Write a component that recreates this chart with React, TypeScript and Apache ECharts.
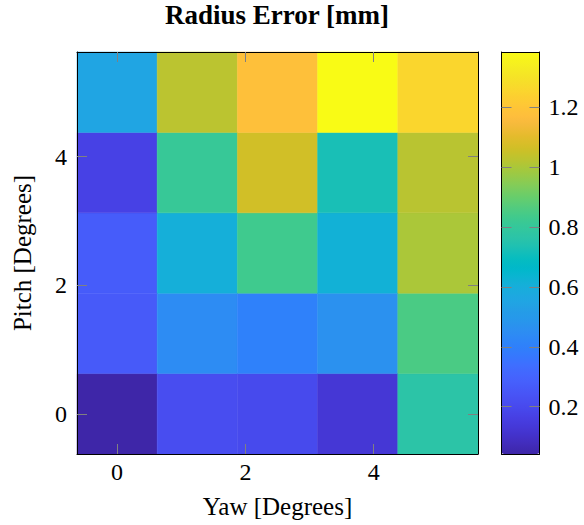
import React, { useEffect, useRef } from "react";
import * as echarts from "echarts";

// ---- data ----
const yawValues = [0, 1.25, 2.5, 3.75, 5];
const pitchValues = [0, 1.25, 2.5, 3.75, 5];
// rows: pitch (bottom -> top), columns: yaw (left -> right)
const errPitch0 = [0.042, 0.212, 0.2, 0.127, 0.766];
const errPitch1 = [0.262, 0.447, 0.404, 0.469, 0.851];
const errPitch2 = [0.268, 0.606, 0.83, 0.617, 1.0];
const errPitch3 = [0.17, 0.809, 1.065, 0.724, 1.022];
const errPitch4 = [0.553, 1.026, 1.181, 1.384, 1.256];
const errorRows = [errPitch0, errPitch1, errPitch2, errPitch3, errPitch4];
const axisTickValues = [0, 2, 4];
const colorbarTickValues = [0.2, 0.4, 0.6, 0.8, 1, 1.2];

const TITLE = "Radius Error [mm]";
const X_NAME = "Yaw [Degrees]";
const Y_NAME = "Pitch [Degrees]";

// MATLAB parula colormap (64 entries)
const PARULA = [
  "#3e26a8", "#402ab4", "#422ec0", "#4332cb", "#4537d5", "#463cde", "#4741e5", "#4747eb",
  "#484df0", "#4852f4", "#4758f8", "#465efb", "#4563fd", "#4269fe", "#3e6fff", "#3875fe",
  "#327cfc", "#2f81fa", "#2e87f7", "#2d8cf3", "#2b91ef", "#2797eb", "#259be8", "#23a0e5",
  "#20a5e3", "#1ca9df", "#18addb", "#12b1d6", "#08b5d0", "#01b8ca", "#02bac3", "#0bbdbd",
  "#19bfb6", "#24c1ae", "#2cc4a7", "#31c69f", "#37c897", "#3fca8e", "#4acb84", "#57cc7a",
  "#64cd6f", "#72cd64", "#81cc59", "#8fcb4e", "#9dc943", "#abc739", "#b9c431", "#c5c22a",
  "#d1bf27", "#dcbd29", "#e6bb2d", "#f0ba36", "#f8ba3d", "#febe3c", "#fec338", "#fec934",
  "#fccf30", "#fad62d", "#f7dc2a", "#f5e327", "#f5e924", "#f6ef20", "#f7f51b", "#f9fb15",
];

const FONT = "'Liberation Serif', 'Times New Roman', serif";

export default function App() {
  const ref = useRef<HTMLDivElement>(null);

  useEffect(() => {
    if (!ref.current) return;
    const chart = echarts.init(ref.current, null, { renderer: "svg" });

    const data: number[][] = [];
    errorRows.forEach((row, pi) => {
      row.forEach((v, yi) => {
        data.push([yawValues[yi], pitchValues[pi], v]);
      });
    });
    const allVals = errorRows.flat();
    const vMin = Math.min(...allVals);
    const vMax = Math.max(...allVals);
    const halfX = (yawValues[1] - yawValues[0]) / 2;
    const halfY = (pitchValues[1] - pitchValues[0]) / 2;
    const xMin = yawValues[0] - halfX;
    const xMax = yawValues[yawValues.length - 1] + halfX;
    const yMin = pitchValues[0] - halfY;
    const yMax = pitchValues[pitchValues.length - 1] + halfY;

    const tickStyle = { show: true, inside: true, length: 10, lineStyle: { color: "#808080", width: 1 } };
    const lineStyle = { show: true, lineStyle: { color: "#000", width: 1 } };
    const labelStyle = { fontFamily: FONT, fontSize: 24, color: "#000" };

    const mainAxis = (pos: string, showLabel: boolean, min: number, max: number, extra: any = {}) => ({
      type: "value",
      gridIndex: 0,
      position: pos,
      min,
      max,
      z: 10,
      axisLine: { ...lineStyle, onZero: false },
      axisTick: { ...tickStyle, customValues: axisTickValues },
      axisLabel: showLabel
        ? { ...labelStyle, customValues: axisTickValues, margin: pos === "bottom" ? 6 : 10 }
        : { show: false },
      splitLine: { show: false },
      ...extra,
    });

    chart.setOption({
      animation: false,
      backgroundColor: "#fff",
      title: {
        text: TITLE,
        left: 277,
        top: 1,
        padding: 0,
        textAlign: "center",
        textStyle: { fontFamily: FONT, fontWeight: "bold", fontSize: 27, color: "#000" },
      },
      grid: [
        { left: 77, top: 52, width: 401, height: 402 },
        { left: 501.5, top: 52, width: 38, height: 402 },
      ],
      xAxis: [
        mainAxis("bottom", true, xMin, xMax, {
          name: X_NAME,
          nameLocation: "middle",
          nameGap: 40,
          nameTextStyle: { fontFamily: FONT, fontSize: 25, color: "#000" },
        }),
        mainAxis("top", false, xMin, xMax),
        {
          type: "value", gridIndex: 1, position: "bottom", min: 0, max: 1, z: 10,
          axisLine: { ...lineStyle, onZero: false }, axisTick: { show: false },
          axisLabel: { show: false }, splitLine: { show: false },
        },
        {
          type: "value", gridIndex: 1, position: "top", min: 0, max: 1, z: 10,
          axisLine: { ...lineStyle, onZero: false }, axisTick: { show: false },
          axisLabel: { show: false }, splitLine: { show: false },
        },
      ],
      yAxis: [
        mainAxis("left", true, yMin, yMax, {
          name: Y_NAME,
          nameLocation: "middle",
          nameGap: 42,
          nameTextStyle: { fontFamily: FONT, fontSize: 25, color: "#000" },
        }),
        mainAxis("right", false, yMin, yMax),
        {
          type: "value", gridIndex: 1, position: "left", min: vMin, max: vMax, z: 10,
          axisLine: { ...lineStyle, onZero: false },
          axisTick: { ...tickStyle, customValues: colorbarTickValues },
          axisLabel: { show: false }, splitLine: { show: false },
        },
        {
          type: "value", gridIndex: 1, position: "right", min: vMin, max: vMax, z: 10,
          axisLine: { ...lineStyle, onZero: false },
          axisTick: { ...tickStyle, customValues: colorbarTickValues },
          axisLabel: { ...labelStyle, customValues: colorbarTickValues, margin: 9 },
          splitLine: { show: false },
        },
      ],
      visualMap: {
        type: "continuous",
        min: vMin,
        max: vMax,
        dimension: 2,
        seriesIndex: 0,
        calculable: false,
        hoverLink: false,
        orient: "vertical",
        left: 501.5,
        top: 52,
        padding: 0,
        itemWidth: 38,
        itemHeight: 402,
        text: null,
        showLabel: false,
        inRange: { color: PARULA },
      },
      series: [
        {
          type: "custom",
          xAxisIndex: 0,
          yAxisIndex: 0,
          data,
          encode: { x: 0, y: 1 },
          renderItem: (params: any, api: any) => {
            const x = api.value(0);
            const y = api.value(1);
            const p0 = api.coord([x - halfX, y + halfY]);
            const p1 = api.coord([x + halfX, y - halfY]);
            const color = api.visual("color");
            return {
              type: "rect",
              shape: { x: p0[0], y: p0[1], width: p1[0] - p0[0], height: p1[1] - p0[1] },
              style: { fill: color, stroke: color, lineWidth: 0.5 },
            };
          },
        },
      ],
    });

    return () => chart.dispose();
  }, []);

  return (
    <div
      ref={ref}
      style={{ position: "fixed", left: 0, top: 0, width: 584, height: 525, background: "#fff" }}
    />
  );
}
